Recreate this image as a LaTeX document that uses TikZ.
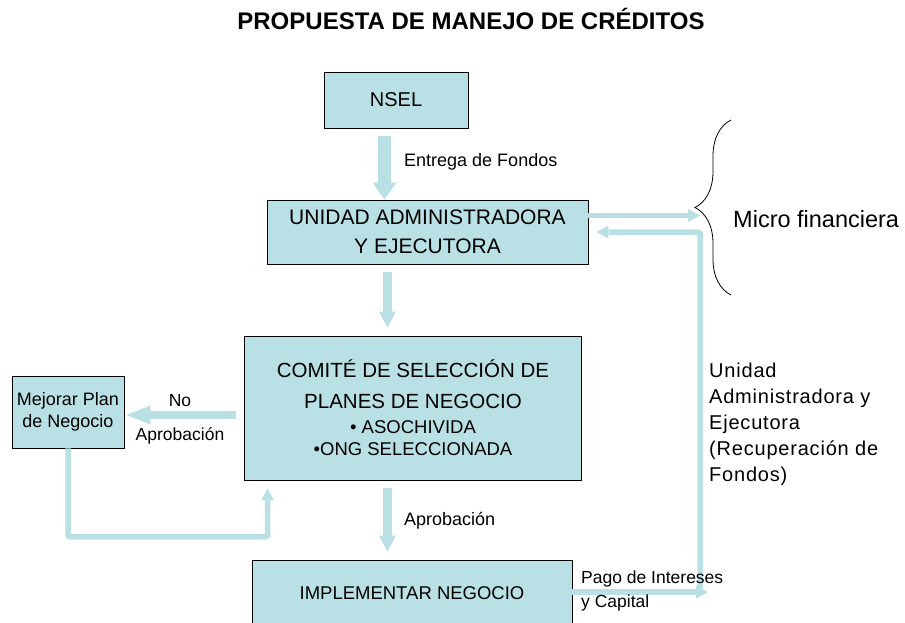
\documentclass[tikz,border=0pt]{standalone}
\usepackage{fontspec}
\setmainfont{Liberation Sans}
\newfontfamily\widefont[LetterSpace=4]{Liberation Sans}
\usetikzlibrary{arrows.meta,decorations.pathreplacing,calc}
\definecolor{boxblue}{HTML}{B9E0E4}
\newcommand\fsz[2]{\fontsize{#1}{#2}\selectfont}
\begin{document}
\begin{tikzpicture}[x=1pt,y=-1pt,
  box/.style={draw=black, line width=0.9pt, fill=boxblue, inner sep=0pt, align=center},
  lbl/.style={inner sep=0pt, anchor=base west},
  fat/.style={draw=boxblue, line width=13pt, -{Triangle[width=24pt,length=17pt,line width=0pt]}},
  mid/.style={draw=boxblue, line width=9pt, -{Triangle[width=17pt,length=16pt,line width=0pt]}},
  side/.style={draw=boxblue, line width=8pt, -{Triangle[width=19pt,length=24pt,line width=0pt]}},
  slim/.style={draw=boxblue, line width=5.5pt, rounded corners=1.5pt, -{Triangle[width=13pt,length=12pt,line width=0pt]}},
  bracestyle/.style={draw=black, line width=0.8pt, decorate, decoration={brace, amplitude=36pt}},
]
\path[use as bounding box, clip] (0,0) rectangle (905,623);

% title
\node[inner sep=0pt, anchor=base, font=\bfseries\fsz{24}{28}] (title) at (471,30) {PROPUESTA DE MANEJO DE CRÉDITOS};

% boxes
\node[box, minimum width=144pt, minimum height=56pt, font=\fsz{20}{24}] (nsel) at (396,100) {NSEL};
\node[box, minimum width=321pt, minimum height=64pt, font=\fsz{21}{29}] (uae) at (427.5,232) {UNIDAD ADMINISTRADORA\\Y EJECUTORA};
\node[box, minimum width=337pt, minimum height=144pt, font=\fsz{20.5}{22}] (comite) at (413,408)
  {COMITÉ DE SELECCIÓN DE\\[9pt]PLANES DE NEGOCIO\\[3pt]{\fsz{18.5}{22}• ASOCHIVIDA}\\{\fsz{18.5}{22}•ONG SELECCIONADA}};
\node[box, minimum width=112pt, minimum height=72pt, font=\fsz{18}{22}] (mejorar) at (68,412) {Mejorar Plan\\de Negocio};
\node[box, minimum width=320pt, minimum height=66pt, font=\fsz{18.5}{22}] (impl) at (412,593) {IMPLEMENTAR NEGOCIO};

% connectors
\coordinate (a1) at ($(nsel.south)+(-11.5,8)$);
\draw[fat] (a1) -- (a1 |- uae.north);

\coordinate (a2) at ($(uae.south)+(-40,8)$);
\draw[mid] (a2) -- ($(a2 |- comite.north)+(0,-8)$);

\coordinate (a3) at ($(comite.south)+(-25.5,8)$);
\draw[mid] (a3) -- ($(a3 |- impl.north)+(0,-8)$);

\coordinate (a4) at ($(comite.west)+(-8,7)$);
\draw[side] (a4) -- ($(a4 -| mejorar.east)+(2,0)$);

\coordinate (r1) at ($(comite.south west)+(23.5,56.5)$);
\draw[slim] (mejorar.south) |- (r1) -- ($(comite.south west)+(23.5,8)$);

\coordinate (pe) at (708,592);
\draw[slim] (impl.east |- pe) -- (pe);

\coordinate (v0) at (700,595);
\draw[slim] (v0) |- ($(uae.east)+(8,0)$);

\coordinate (mf) at (700,215.5);
\draw[slim] (uae.east |- mf) -- (mf);

% brace
\coordinate (bb) at (731,295);
\coordinate (bt) at (731,120);
\draw[bracestyle] (bb) -- (bt);

% labels
\node[lbl, font=\fsz{18}{22}] (entrega) at (404,167) {Entrega de Fondos};
\node[inner sep=0pt, anchor=base, font=\fsz{17.5}{22}] (no) at (180,406) {No};
\node[inner sep=0pt, anchor=base, font=\fsz{17.5}{22}] (noap) at (180,440) {Aprobación};
\node[lbl, font=\fsz{18}{22}] (aprob) at (404,525) {Aprobación};
\node[inner sep=0pt, anchor=north west, align=left, font=\fsz{17.5}{24}] (pago) at (581,570.5) {Pago de Intereses\\y Capital};
\node[inner sep=0pt, anchor=north west, align=left, font=\widefont\fsz{20}{26}] (recup) at (709,362.7)
  {Unidad\\Administradora y\\Ejecutora\\(Recuperación de\\Fondos)};
\node[lbl, font=\fsz{23.5}{28}] (micro) at (733,227) {Micro financiera};
\end{tikzpicture}
\end{document}
